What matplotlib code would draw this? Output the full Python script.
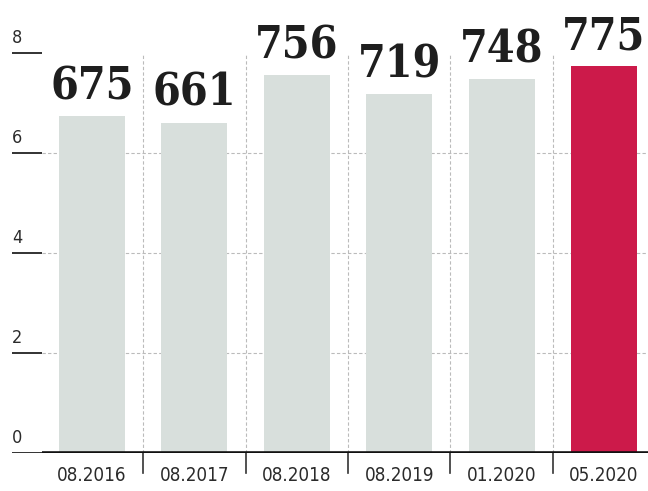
import matplotlib.pyplot as plt

# Data
periods = ["08.2016", "08.2017", "08.2018", "08.2019", "01.2020", "05.2020"]
values = [675, 661, 756, 719, 748, 775]
yticks = [0, 2, 4, 6, 8]

bar_grey = "#d8dfdc"
bar_red = "#cc1a4a"
text_dark = "#2b2b2b"

W, H = 648, 491
fig = plt.figure(figsize=(W / 100, H / 100), dpi=100)
# axes spans from x=12px to the right edge, from the baseline (y=453px) to the top
ax = fig.add_axes([12 / W, (H - 453) / H, (W - 12) / W, 453 / H])
ax.set_xlim(-0.781, 5.43)
ax.set_ylim(0, 9.06)
ax.axis("off")

heights = [v / 100 for v in values]
colors = [bar_grey] * (len(values) - 1) + [bar_red]
xs = list(range(len(values)))
ax.bar(xs, heights, width=0.645, color=colors, zorder=2)

# value labels
for x, h, v in zip(xs, heights, values):
    ax.text(x, h + 0.33, str(v), ha="center", va="baseline",
            fontsize=32, fontweight="bold", family="DejaVu Serif",
            fontstretch="condensed", color="#1e1e1e", zorder=3)

# y axis: short solid marks with labels, dashed grid across
x_left = ax.get_xlim()[0]
x_mark = x_left + 30 / 102.4
for t in yticks:
    ax.plot([x_left, x_mark], [t, t], color="#222222", lw=1.3,
            solid_capstyle="butt", zorder=3)
    ax.text(x_left, t + 0.12, str(t), ha="left", va="bottom",
            fontsize=13, family="DejaVu Sans", fontstretch="condensed",
            color=text_dark)
    if 0 < t < 8:
        ax.plot([x_mark, 5.43], [t, t], color="#bbbbbb", lw=0.8,
                ls=(0, (3, 2)), zorder=1)

# vertical dashed separators and ticks below the baseline
for i in range(len(values) - 1):
    sx = i + 0.5
    ax.plot([sx, sx], [0, 8], color="#bbbbbb", lw=0.8, ls=(0, (3, 2)), zorder=1)
    ax.plot([sx, sx], [0, -0.4], color="#333333", lw=1.2, clip_on=False)

# baseline
ax.plot([x_mark, 5.43], [0, 0], color="#111111", lw=2.6,
        solid_capstyle="butt", zorder=4)

# category labels
for x, p in zip(xs, periods):
    ax.text(x, -0.26, p, ha="center", va="top", fontsize=13.5,
            family="DejaVu Sans", fontstretch="condensed", color=text_dark)

fig.savefig("out.png", dpi=100)
